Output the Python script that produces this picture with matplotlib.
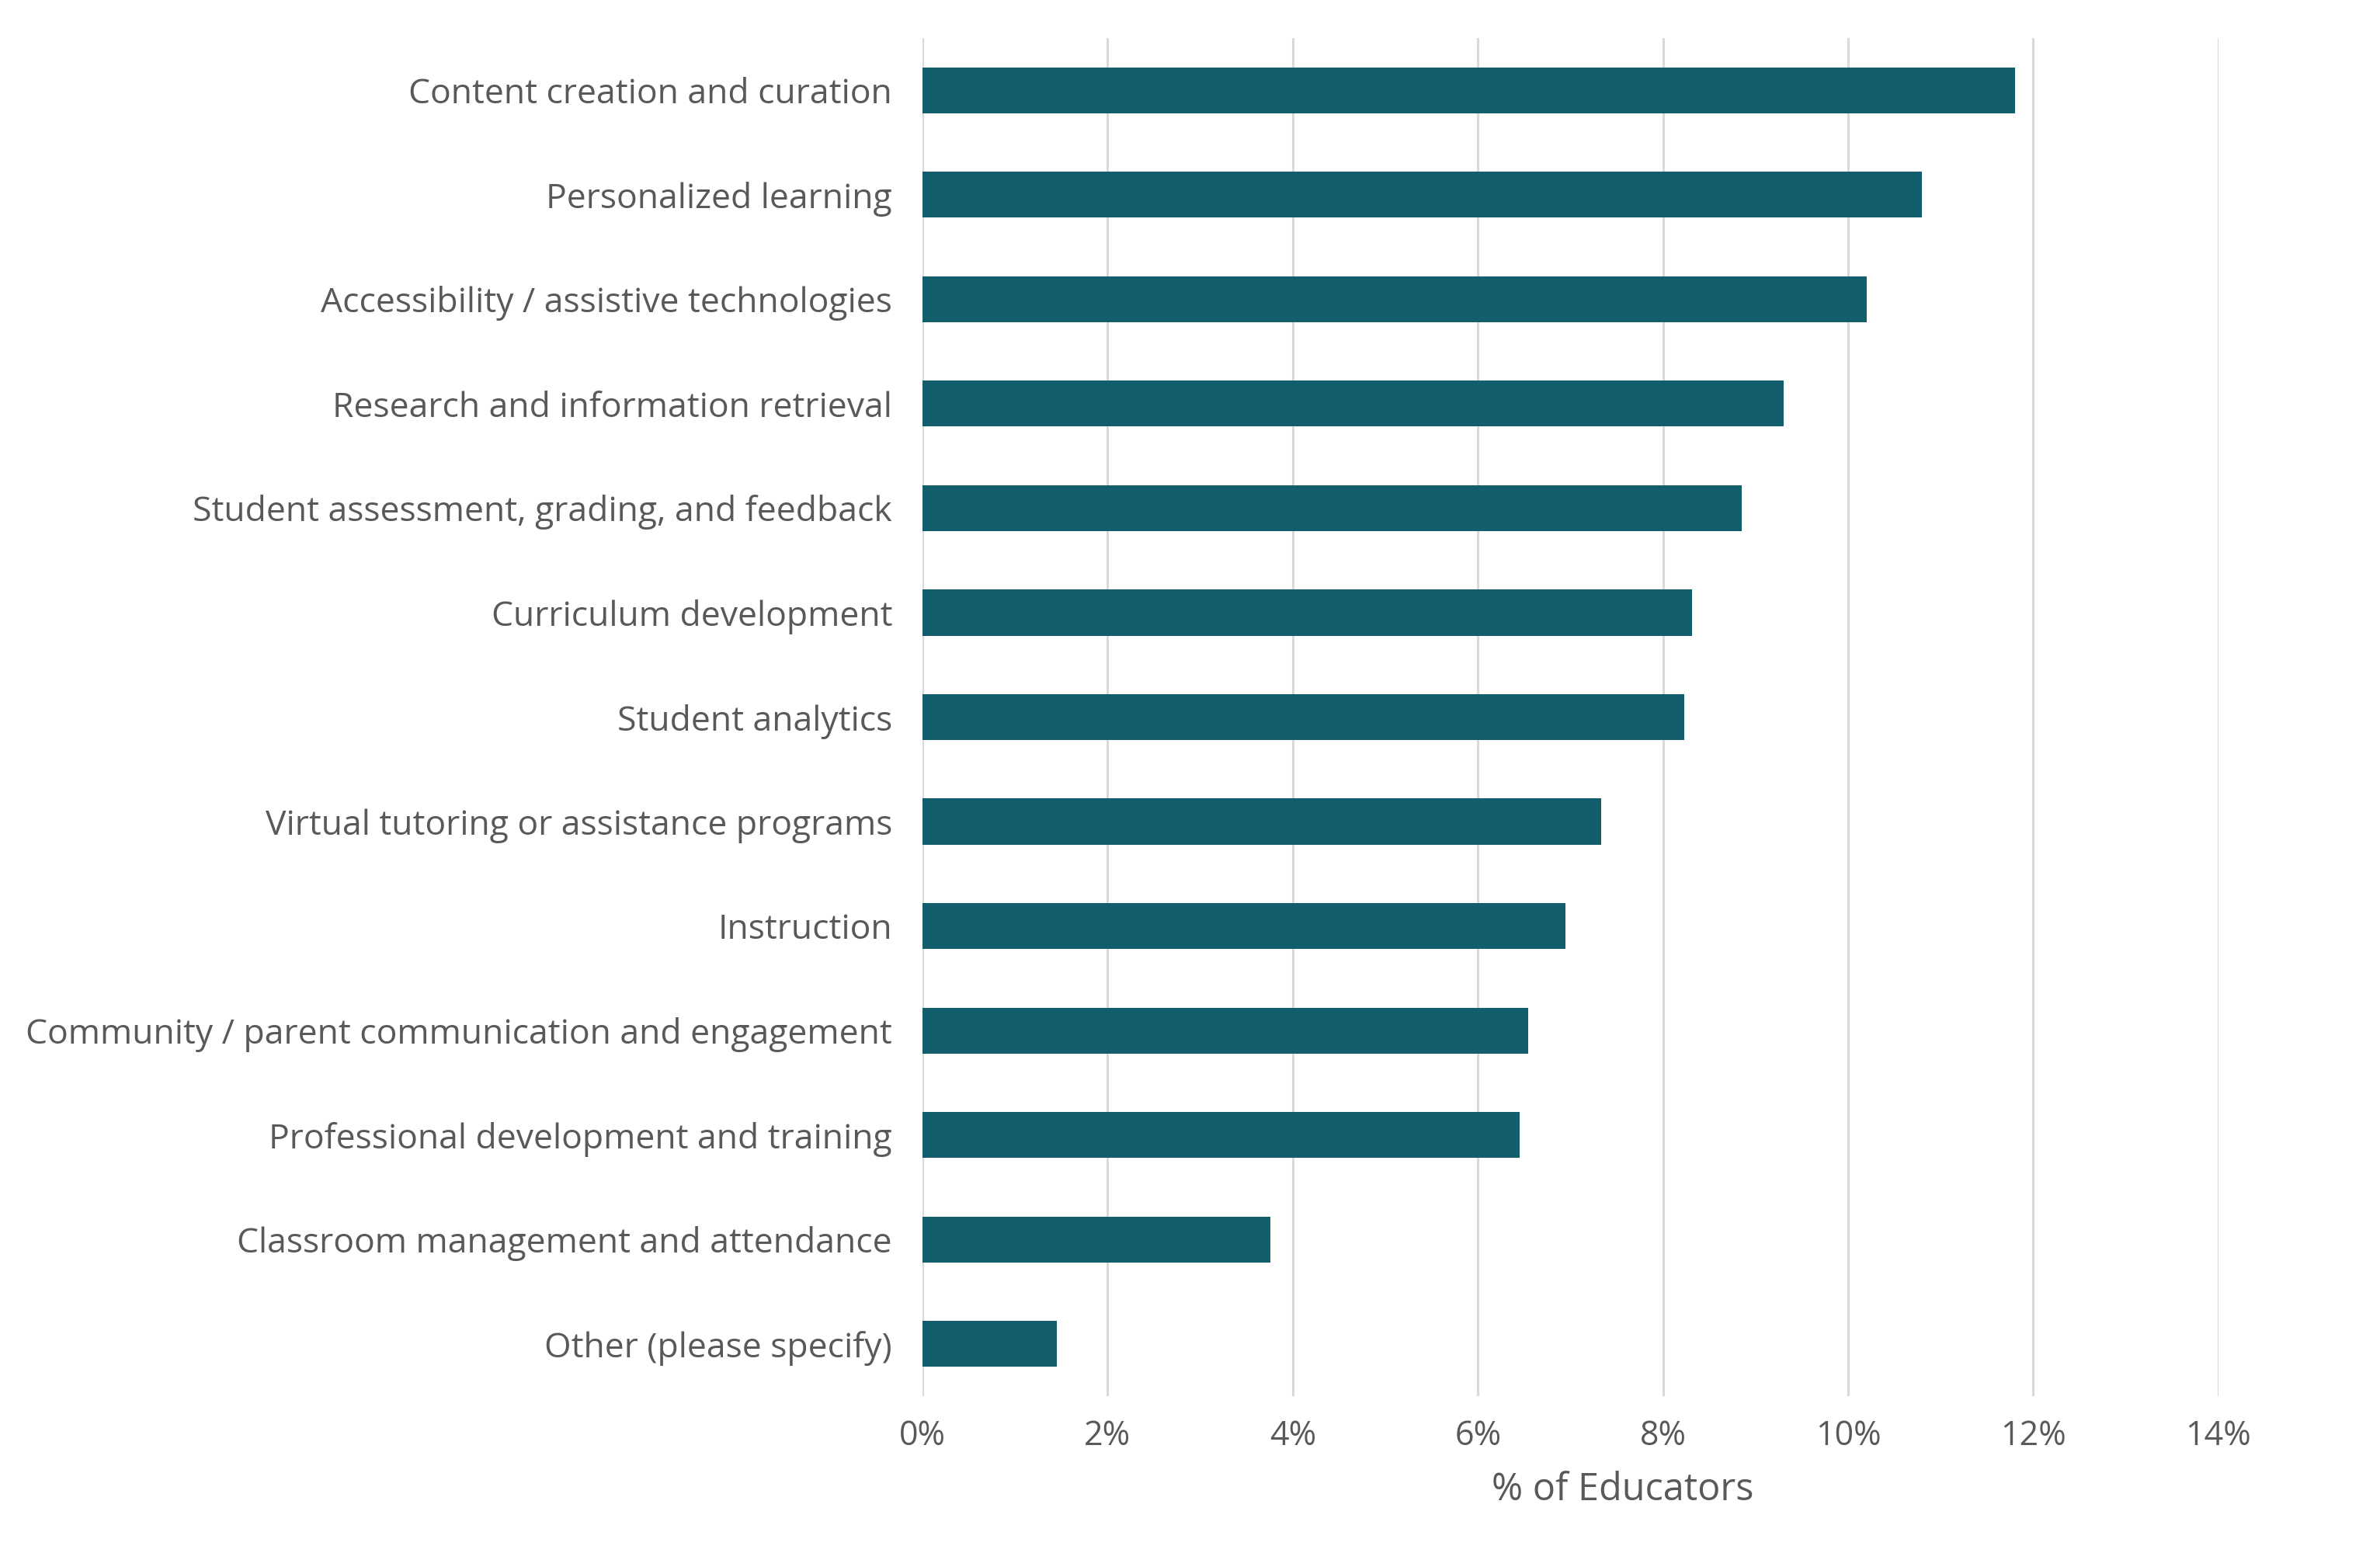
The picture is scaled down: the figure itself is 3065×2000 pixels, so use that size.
import matplotlib
matplotlib.use("Agg")
import matplotlib.pyplot as plt
import matplotlib.ticker as mticker

CATEGORIES = [
    "Content creation and curation",
    "Personalized learning",
    "Accessibility / assistive technologies",
    "Research and information retrieval",
    "Student assessment, grading, and feedback",
    "Curriculum development",
    "Student analytics",
    "Virtual tutoring or assistance programs",
    "Instruction",
    "Community / parent communication and engagement",
    "Professional development and training",
    "Classroom management and attendance",
    "Other (please specify)",
]
SHARE_PCT = [11.80, 10.80, 10.20, 9.30, 8.85, 8.31, 8.23, 7.33, 6.95, 6.54, 6.45, 3.76, 1.45]
X_TICKS = [0, 2, 4, 6, 8, 10, 12, 14]
X_LABEL = "% of Educators"

BAR_COLOR = "#135e6c"
TEXT_COLOR = "#595959"
GRID_COLOR = "#d9d9d9"
FONT = ["Open Sans", "DejaVu Sans"]
FONT_SIZE = 32

plt.rcParams["font.family"] = FONT
plt.rcParams["font.weight"] = "medium"

fig = plt.figure(figsize=(30.65, 20), dpi=100)
ax = fig.add_axes([0.3876, 0.101, 0.5445, 0.8745])

ypos = list(range(len(CATEGORIES)))
ax.barh(ypos, SHARE_PCT, height=0.44, color=BAR_COLOR, zorder=3)

ax.set_ylim(len(CATEGORIES) - 0.5, -0.5)
ax.set_xlim(0, 14)
ax.set_yticks(ypos)
ax.set_yticklabels(CATEGORIES)
ax.set_xticks(X_TICKS)
ax.xaxis.set_major_formatter(mticker.FuncFormatter(lambda v, _: f"{v:g}%"))

ax.grid(axis="x", color=GRID_COLOR, lw=2.2, zorder=0)
ax.grid(axis="y", visible=False)
ax.set_axisbelow(True)
for spine in ax.spines.values():
    spine.set_visible(False)

ax.tick_params(axis="y", length=0, pad=28, labelsize=FONT_SIZE, labelcolor=TEXT_COLOR)
ax.tick_params(axis="x", length=0, pad=21, labelsize=FONT_SIZE - 1, labelcolor=TEXT_COLOR)

ax.set_xlabel(X_LABEL, fontsize=FONT_SIZE + 3, color=TEXT_COLOR)
ax.xaxis.set_label_coords(0.54, -0.055)

fig.savefig("out.png", dpi=100, facecolor="white")
